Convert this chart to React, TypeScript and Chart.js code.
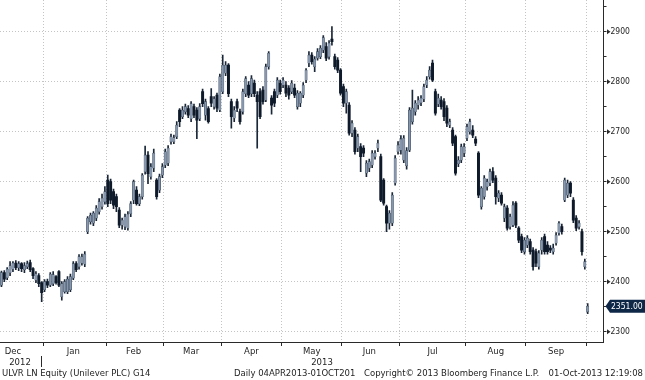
import React, { useEffect, useRef } from 'react';
import { Chart, registerables } from 'chart.js';

Chart.register(...registerables);

// ---------------- data ----------------
const startDate = '2012-12-07';
const endDate = '2013-10-01';
const holidays = ['2012-12-25', '2012-12-26', '2013-01-01', '2013-03-29', '2013-04-01', '2013-05-06', '2013-05-27', '2013-08-26'];
const monthNames = ['Jan', 'Feb', 'Mar', 'Apr', 'May', 'Jun', 'Jul', 'Aug', 'Sep', 'Oct', 'Nov', 'Dec'];
const priceTickLabels = [2300, 2400, 2500, 2600, 2700, 2800, 2900];
const yearLabels = ['2012', '2013'];
const lastPrice = 2351.0;

const opens = [
  2393, 2418, 2408, 2418, 2425, 2437, 2428, 2436, 2424, 2430, 2438, 2426, 2403, 2412, 2398,
  2384, 2400, 2393, 2396, 2410, 2420, 2370, 2380, 2380, 2384, 2407, 2436, 2430, 2437, 2435, 2500, 2520, 2517, 2527, 2540, 2550, 2560,
  2603, 2600, 2580, 2570, 2543, 2513, 2510, 2507, 2536, 2563, 2583, 2556, 2570, 2620, 2653, 2610, 2627, 2603, 2583, 2613,
  2633, 2637, 2680, 2680, 2690, 2743, 2730, 2740, 2746, 2726, 2750, 2743, 2726, 2780, 2733, 2746, 2770, 2750, 2773, 2743,
  2780, 2817, 2833, 2760, 2727, 2760, 2740, 2740, 2776, 2793, 2776, 2797, 2773, 2780, 2783, 2763, 2830, 2767, 2780, 2773, 2797,
  2793, 2793, 2787, 2780, 2787, 2750, 2757, 2773, 2803, 2837, 2853, 2830, 2847, 2850, 2863, 2870, 2850, 2885, 2850, 2843, 2823,
  2790, 2757, 2753, 2697, 2703, 2667, 2670, 2667, 2617, 2627, 2633, 2650, 2667, 2650, 2603, 2550, 2517, 2517, 2597, 2660,
  2663, 2643, 2632, 2663, 2720, 2740, 2753, 2758, 2765, 2793, 2810, 2837, 2780, 2755, 2763, 2760, 2747, 2713, 2703, 2690, 2636, 2643, 2657,
  2687, 2700, 2703, 2685, 2657, 2550, 2570, 2590, 2597, 2620, 2607, 2567, 2573, 2527, 2547, 2510, 2513, 2557, 2507, 2490, 2460,
  2473, 2480, 2463, 2460, 2430, 2463, 2490, 2473, 2467, 2460, 2477, 2497, 2510, 2563, 2573, 2597, 2563, 2527, 2510, 2500, 2430,
  2340,
];
const closes = [
  2418, 2405, 2425, 2432, 2437, 2428, 2436, 2426, 2432, 2436, 2424, 2412, 2416, 2396, 2378,
  2400, 2393, 2415, 2414, 2398, 2393, 2396, 2400, 2405, 2410, 2436, 2424, 2450, 2450, 2455, 2527, 2533, 2537, 2547, 2560, 2567, 2580,
  2556, 2563, 2553, 2550, 2513, 2523, 2530, 2535, 2556, 2600, 2556, 2570, 2613, 2653, 2616, 2630, 2657, 2570, 2610, 2630,
  2660, 2667, 2690, 2688, 2713, 2720, 2743, 2750, 2733, 2756, 2733, 2723, 2750, 2756, 2760, 2720, 2757, 2766, 2747, 2810,
  2833, 2833, 2776, 2730, 2743, 2747, 2720, 2780, 2806, 2773, 2806, 2776, 2760, 2730, 2760, 2830, 2857, 2753, 2757, 2803, 2780,
  2803, 2777, 2773, 2797, 2773, 2777, 2777, 2793, 2823, 2853, 2840, 2845, 2860, 2867, 2888, 2847, 2877, 2880, 2830, 2823, 2777,
  2757, 2780, 2697, 2717, 2660, 2690, 2650, 2657, 2637, 2640, 2657, 2657, 2677, 2563, 2557, 2517, 2537, 2573, 2647, 2673,
  2685, 2687, 2662, 2743, 2747, 2757, 2763, 2767, 2790, 2803, 2823, 2803, 2737, 2767, 2750, 2730, 2717, 2720, 2677, 2617, 2643, 2670, 2670,
  2710, 2720, 2693, 2677, 2573, 2587, 2607, 2600, 2620, 2603, 2570, 2577, 2557, 2550, 2507, 2530, 2553, 2513, 2483, 2463, 2483,
  2487, 2460, 2430, 2437, 2457, 2483, 2460, 2460, 2463, 2467, 2493, 2517, 2500, 2603, 2597, 2577, 2523, 2507, 2517, 2460, 2440,
  2351,
];
const highs = [
  2421, 2422, 2428, 2440, 2440, 2442, 2440, 2438, 2438, 2441, 2443, 2428, 2420, 2416, 2400,
  2404, 2405, 2418, 2420, 2412, 2422, 2400, 2404, 2410, 2415, 2440, 2440, 2454, 2455, 2460, 2530, 2537, 2540, 2552, 2566, 2575, 2590,
  2613, 2605, 2585, 2575, 2548, 2527, 2535, 2540, 2560, 2603, 2590, 2575, 2616, 2671, 2660, 2636, 2665, 2606, 2615, 2636,
  2665, 2672, 2695, 2693, 2720, 2746, 2750, 2755, 2752, 2760, 2755, 2748, 2756, 2785, 2765, 2750, 2786, 2770, 2777, 2815,
  2853, 2840, 2836, 2765, 2750, 2765, 2745, 2785, 2810, 2800, 2812, 2803, 2780, 2786, 2790, 2835, 2860, 2772, 2785, 2808, 2803,
  2808, 2800, 2792, 2802, 2795, 2782, 2780, 2798, 2826, 2860, 2858, 2850, 2866, 2872, 2892, 2878, 2882, 2910, 2855, 2848, 2826,
  2795, 2785, 2758, 2722, 2708, 2695, 2676, 2672, 2642, 2645, 2662, 2662, 2683, 2655, 2606, 2553, 2542, 2578, 2652, 2680,
  2692, 2692, 2668, 2748, 2783, 2762, 2770, 2772, 2795, 2810, 2830, 2843, 2785, 2775, 2770, 2766, 2752, 2725, 2708, 2693, 2650, 2675, 2676,
  2715, 2725, 2712, 2690, 2660, 2590, 2612, 2605, 2625, 2628, 2612, 2582, 2578, 2555, 2552, 2535, 2560, 2560, 2510, 2495, 2488,
  2492, 2485, 2468, 2465, 2462, 2488, 2495, 2480, 2472, 2475, 2498, 2520, 2515, 2607, 2603, 2600, 2568, 2532, 2522, 2505, 2445,
  2356,
];
const lows = [
  2390, 2400, 2404, 2412, 2420, 2424, 2422, 2420, 2418, 2426, 2420, 2406, 2398, 2390, 2360,
  2380, 2388, 2390, 2392, 2395, 2390, 2363, 2377, 2376, 2380, 2404, 2420, 2425, 2433, 2430, 2496, 2515, 2512, 2522, 2535, 2545, 2555,
  2550, 2556, 2546, 2540, 2508, 2505, 2504, 2503, 2530, 2556, 2553, 2552, 2565, 2615, 2596, 2605, 2620, 2565, 2578, 2608,
  2628, 2632, 2675, 2676, 2686, 2710, 2726, 2735, 2728, 2720, 2728, 2686, 2722, 2750, 2723, 2717, 2750, 2745, 2740, 2740,
  2776, 2812, 2770, 2707, 2720, 2740, 2715, 2735, 2770, 2768, 2770, 2770, 2667, 2726, 2755, 2760, 2825, 2735, 2750, 2768, 2775,
  2788, 2770, 2765, 2776, 2768, 2745, 2750, 2768, 2798, 2830, 2835, 2820, 2843, 2846, 2858, 2842, 2845, 2873, 2825, 2818, 2773,
  2750, 2737, 2693, 2690, 2655, 2660, 2620, 2650, 2610, 2620, 2628, 2645, 2660, 2560, 2553, 2500, 2505, 2512, 2593, 2655,
  2655, 2638, 2625, 2660, 2715, 2733, 2745, 2752, 2760, 2788, 2805, 2800, 2733, 2750, 2745, 2722, 2710, 2708, 2672, 2613, 2630, 2638, 2650,
  2682, 2695, 2688, 2672, 2568, 2545, 2565, 2583, 2592, 2598, 2555, 2560, 2553, 2520, 2503, 2505, 2510, 2508, 2478, 2458, 2455,
  2468, 2455, 2423, 2430, 2425, 2455, 2455, 2455, 2458, 2455, 2473, 2493, 2495, 2560, 2568, 2570, 2518, 2502, 2505, 2453, 2425,
  2336,
];

// ---------------- helpers ----------------
function tradingDays(start: string, end: string, hol: string[]): string[] {
  const out: string[] = [];
  const d = new Date(start + 'T00:00:00Z');
  const e = new Date(end + 'T00:00:00Z');
  while (d <= e) {
    const iso = d.toISOString().slice(0, 10);
    const wd = d.getUTCDay();
    if (wd !== 0 && wd !== 6 && !hol.includes(iso)) out.push(iso);
    d.setUTCDate(d.getUTCDate() + 1);
  }
  return out;
}

const dates = tradingDays(startDate, endDate, holidays);
const EXTRA_SLOTS = 5;
const labels = [...dates, ...Array.from({ length: EXTRA_SLOTS }, (_, i) => 'pad' + i)];

type Grp = { key: string; first: number; last: number };
const groups: Grp[] = [];
dates.forEach((iso, i) => {
  const key = iso.slice(0, 7);
  const g = groups[groups.length - 1];
  if (!g || g.key !== key) groups.push({ key, first: i, last: i });
  else g.last = i;
});
const monthLabelAt = new Map<number, string>();
const boundaryIdx = new Set<number>();
groups.forEach((g, gi) => {
  if (gi > 0) boundaryIdx.add(g.first);
  if (g.last - g.first + 1 < 5) return;
  const pos = gi === 0 ? g.last - 10 : Math.floor((g.first + g.last) / 2);
  monthLabelAt.set(pos, monthNames[+g.key.slice(5, 7) - 1]);
});

const FONT = "'DejaVu Sans', sans-serif";
const FONT_AXIS = "'DejaVu Sans Condensed', 'DejaVu Sans', sans-serif";
const FONT_SIZE = 8.5;
const TEXT = '#1e1e1e';
const GRID = '#c4c4c4';
const AXIS = '#2a2a2a';
const UP_FILL = '#8797ad';
const UP_EDGE = '#2a384a';
const DOWN_FILL = '#0e1a2a';
const WICK = '#1a2738';
const TAG = '#0f2747';

const isUp = (i: number) => closes[i] >= opens[i];

const decorPlugin = {
  id: 'decor',
  afterDraw(chart: any) {
    const ctx = chart.ctx;
    const ys = chart.scales.y;
    ctx.save();
    ctx.fillStyle = AXIS;
    priceTickLabels.forEach((v) => {
      const y = ys.getPixelForValue(v);
      ctx.beginPath();
      ctx.moveTo(ys.left + 3.5, y - 2.5);
      ctx.lineTo(ys.left + 7, y);
      ctx.lineTo(ys.left + 3.5, y + 2.5);
      ctx.closePath();
      ctx.fill();
    });
    // last price tag
    const y = ys.getPixelForValue(lastPrice);
    const x0 = ys.left + 2;
    ctx.fillStyle = TAG;
    ctx.beginPath();
    ctx.moveTo(x0, y);
    ctx.lineTo(x0 + 4.5, y - 6.5);
    ctx.lineTo(chart.width, y - 6.5);
    ctx.lineTo(chart.width, y + 6.5);
    ctx.lineTo(x0 + 4.5, y + 6.5);
    ctx.closePath();
    ctx.fill();
    ctx.fillStyle = '#ffffff';
    ctx.font = `${FONT_SIZE}px ${FONT_AXIS}`;
    ctx.textBaseline = 'middle';
    ctx.textAlign = 'left';
    ctx.fillText(lastPrice.toFixed(2), x0 + 5.5, y + 0.5);
    ctx.restore();
  },
};

export default function App() {
  const ref = useRef<HTMLCanvasElement | null>(null);

  useEffect(() => {
    if (!ref.current) return;
    const chart = new Chart(ref.current, {
      type: 'bar',
      data: {
        labels,
        datasets: [
          {
            label: 'body',
            data: opens.map((o, i) => [o, closes[i]]) as any,
            grouped: false,
            order: 0,
            barThickness: 2.3,
            backgroundColor: (c: any) => (isUp(c.dataIndex) ? UP_FILL : DOWN_FILL),
            borderColor: (c: any) => (isUp(c.dataIndex) ? UP_EDGE : DOWN_FILL),
            borderWidth: (c: any) => (isUp(c.dataIndex) ? 0.4 : 0),
            borderSkipped: false,
          } as any,
          {
            label: 'wick',
            data: lows.map((l, i) => [l, highs[i]]) as any,
            grouped: false,
            order: 1,
            barThickness: 1,
            backgroundColor: WICK,
            borderWidth: 0,
          } as any,
        ],
      },
      options: {
        responsive: false,
        animation: false,
        devicePixelRatio: 1,
        layout: { padding: 0 },
        plugins: { legend: { display: false }, tooltip: { enabled: false } },
        scales: {
          x: {
            type: 'category',
            offset: true,
            grid: {
              offset: true,
              color: (c: any) => (boundaryIdx.has(c.index) ? GRID : 'transparent'),
              tickColor: (c: any) => (boundaryIdx.has(c.index) ? AXIS : 'transparent'),
              tickLength: 4,
              lineWidth: 1,
            },
            border: { display: true, color: AXIS, width: 1, dash: [1, 2] },
            ticks: {
              autoSkip: false,
              maxRotation: 0,
              minRotation: 0,
              padding: 1,
              color: TEXT,
              font: { family: FONT, size: FONT_SIZE },
              callback: (_v: any, i: number) => monthLabelAt.get(i) ?? '',
            },
            afterFit: (s: any) => {
              s.height = 38;
              s.paddingLeft = 0;
              s.paddingRight = 0;
            },
          } as any,
          y: {
            position: 'right',
            min: 2279.4,
            max: 2963.4,
            grid: {
              color: (c: any) => (c.tick && priceTickLabels.includes(c.tick.value) ? GRID : 'transparent'),
              tickColor: AXIS,
              tickLength: 3,
              lineWidth: 1,
            },
            border: { display: true, color: AXIS, width: 1, dash: [1, 2] },
            ticks: {
              stepSize: 50,
              includeBounds: false,
              padding: 4,
              color: TEXT,
              font: { family: FONT_AXIS, size: FONT_SIZE },
              callback: (v: any) => (priceTickLabels.includes(v) ? String(v) : ''),
            },
            afterFit: (s: any) => {
              s.width = 41.5;
              s.paddingTop = 0;
              s.paddingBottom = 0;
            },
          } as any,
        },
      },
      plugins: [decorPlugin],
    });
    return () => chart.destroy();
  }, []);

  const txt: React.CSSProperties = {
    position: 'absolute',
    fontFamily: FONT,
    fontSize: FONT_SIZE,
    lineHeight: '10px',
    color: TEXT,
    whiteSpace: 'nowrap',
  };

  return (
    <div style={{ position: 'absolute', left: 0, top: 0, width: 645, height: 380, background: '#fff', overflow: 'hidden' }}>
      <canvas ref={ref} width={645} height={380} style={{ position: 'absolute', left: 0, top: 0 }} />
      <span style={{ ...txt, left: 20, top: 357, transform: 'translateX(-50%)' }}>{yearLabels[0]}</span>
      <div style={{ position: 'absolute', left: 41, top: 356, width: 1, height: 11, background: AXIS }} />
      <span style={{ ...txt, left: 322, top: 357, transform: 'translateX(-50%)' }}>{yearLabels[1]}</span>
      <span style={{ ...txt, left: 2, top: 368 }}>ULVR LN Equity (Unilever PLC) G14</span>
      <span style={{ ...txt, left: 234, top: 368 }}>Daily 04APR2013-01OCT201</span>
      <span style={{ ...txt, left: 364, top: 368 }}>Copyright© 2013 Bloomberg Finance L.P.</span>
      <span style={{ ...txt, right: 2, top: 368 }}>01-Oct-2013 12:19:08</span>
    </div>
  );
}
